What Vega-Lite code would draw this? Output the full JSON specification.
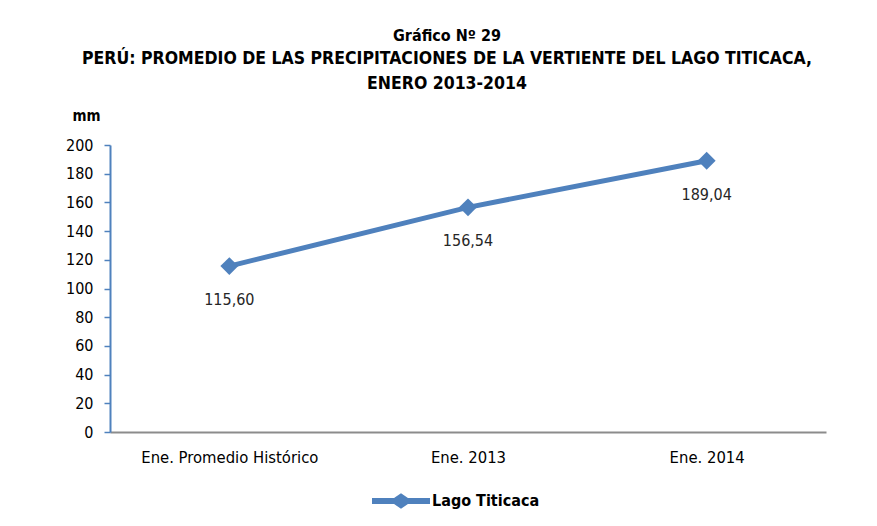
{
  "$schema": "https://vega.github.io/schema/vega-lite/v6.json",
  "width": 716,
  "height": 287,
  "autosize": {"type": "none"},
  "padding": {"left": 110, "top": 145, "right": 51, "bottom": 94},
  "background": "white",
  "config": {
    "locale": {"number": {"decimal": ",", "thousands": ".", "grouping": [3], "currency": ["", ""]}},
    "view": {"stroke": null},
    "font": "DejaVu Sans Condensed"
  },
  "title": {
    "text": "Gráfico Nº 29",
    "subtitle": ["PERÚ: PROMEDIO DE LAS PRECIPITACIONES DE LA VERTIENTE DEL LAGO TITICACA,", "ENERO 2013-2014"],
    "anchor": "middle",
    "frame": "group",
    "dx": -21,
    "font": "DejaVu Sans Condensed",
    "fontSize": 16,
    "fontWeight": "bold",
    "color": "#000000",
    "subtitleFont": "DejaVu Sans Condensed",
    "subtitleFontSize": 17.5,
    "subtitleFontWeight": "bold",
    "subtitleColor": "#000000",
    "subtitleLineHeight": 25,
    "subtitlePadding": 6,
    "offset": 16
  },
  "data": {
    "values": [
      {"periodo": "Ene. Promedio Histórico", "mm": 115.60, "serie": "Lago Titicaca"},
      {"periodo": "Ene. 2013", "mm": 156.54, "serie": "Lago Titicaca"},
      {"periodo": "Ene. 2014", "mm": 189.04, "serie": "Lago Titicaca"}
    ]
  },
  "encoding": {
    "x": {
      "field": "periodo",
      "type": "nominal",
      "sort": null,
      "scale": {"type": "point", "padding": 0.5},
      "axis": {
        "title": null,
        "labelAngle": 0,
        "labelFont": "DejaVu Sans Condensed",
        "labelFontSize": 16.5,
        "labelColor": "#000000",
        "labelPadding": 17,
        "domainColor": "#8c8c8c",
        "domainWidth": 2,
        "ticks": false,
        "grid": false
      }
    },
    "y": {
      "field": "mm",
      "type": "quantitative",
      "scale": {"domain": [0, 200], "nice": false},
      "axis": {
        "values": [0, 20, 40, 60, 80, 100, 120, 140, 160, 180, 200],
        "title": "mm",
        "titleAngle": 0,
        "titleAlign": "center",
        "titleBaseline": "middle",
        "titleX": -24,
        "titleY": -30,
        "titleFont": "DejaVu Sans Condensed",
        "titleFontSize": 15,
        "titleFontWeight": "bold",
        "titleColor": "#000000",
        "labelFont": "DejaVu Sans Condensed",
        "labelFontSize": 16,
        "labelColor": "#000000",
        "labelPadding": 11,
        "domainColor": "#4F81BD",
        "domainWidth": 2,
        "tickColor": "#4F81BD",
        "tickSize": 6,
        "tickWidth": 1.5,
        "grid": false
      }
    }
  },
  "layer": [
    {
      "mark": {"type": "line", "strokeWidth": 5},
      "encoding": {
        "color": {
          "field": "serie",
          "type": "nominal",
          "scale": {"range": ["#4F81BD"]},
          "legend": {
            "title": null,
            "orient": "none",
            "legendX": 262,
            "legendY": 327,
            "direction": "horizontal",
            "symbolType": "M-1,-0.1L-0.24,-0.1L0,-0.27L0.24,-0.1L1,-0.1L1,0.1L0.24,0.1L0,0.27L-0.24,0.1L-1,0.1Z",
            "symbolSize": 3364,
            "symbolFillColor": "#4F81BD",
            "symbolStrokeWidth": 0,
            "labelFont": "DejaVu Sans Condensed",
            "labelFontSize": 16,
            "labelFontWeight": "bold",
            "labelColor": "#000000",
            "labelOffset": 2
          }
        }
      }
    },
    {
      "mark": {"type": "point", "shape": "diamond", "filled": true, "size": 320, "color": "#4F81BD", "opacity": 1}
    },
    {
      "mark": {"type": "text", "dy": 34, "font": "DejaVu Sans Condensed", "fontSize": 16, "color": "#262626"},
      "encoding": {"text": {"field": "mm", "type": "quantitative", "format": ".2f"}}
    }
  ]
}
